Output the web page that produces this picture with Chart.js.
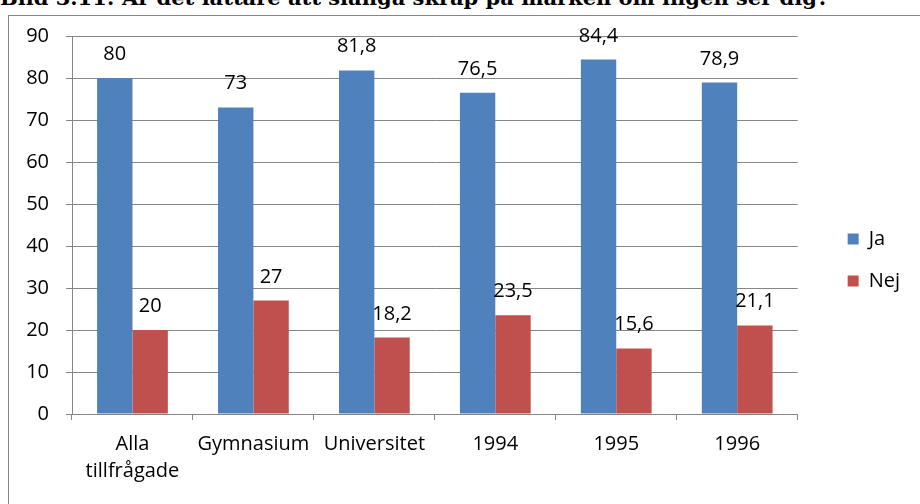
<!DOCTYPE html>
<html><head><meta charset="utf-8">
<script src="https://cdn.jsdelivr.net/npm/chart.js@4.4.0/dist/chart.umd.min.js"></script>
<style>
html,body{margin:0;padding:0;background:#fff;width:920px;height:504px;overflow:hidden;position:relative}
#title{position:absolute;left:0;top:-15px;font:bold 21px "DejaVu Serif","Liberation Serif",serif;white-space:nowrap;color:#000}
#box{position:absolute;left:8px;top:15px;width:940px;height:520px;border:1px solid #868686;box-sizing:border-box}
#wrap{position:absolute;left:0;top:0;width:920px;height:504px}
</style></head><body>
<div id="title">Bild 3.11: Är det lättare att slänga skräp på marken om ingen ser dig?</div>
<div id="box"></div>
<div id="wrap"><canvas id="c" width="920" height="504"></canvas></div>
<script>
const categories = [["Alla","tillfrågade"],"Gymnasium","Universitet","1994","1995","1996"];
const jaValues = [80, 73, 81.8, 76.5, 84.4, 78.9];
const nejValues = [20, 27, 18.2, 23.5, 15.6, 21.1];
const yTicks = [0,10,20,30,40,50,60,70,80,90];

const FONT = '"Open Sans", Lato, sans-serif';
const labelPlugin = {
  id:'barLabels',
  afterLayout(chart){
    if (chart.legend) { chart.legend.top -= 5; chart.legend.bottom -= 5; }
  },
  afterDatasetsDraw(chart){
    const ctx = chart.ctx;
    ctx.save();
    ctx.font = '20px ' + FONT;
    ctx.fillStyle = '#000';
    ctx.textAlign = 'center';
    ctx.textBaseline = 'alphabetic';
    chart.data.datasets.forEach((ds,i)=>{
      chart.getDatasetMeta(i).data.forEach((el,j)=>{
        const v = ds.data[j];
        ctx.fillText(String(v).replace('.',','), el.x, el.y - 18);
      });
    });
    ctx.restore();
  }
};
new Chart(document.getElementById('c'), {
  type:'bar',
  data:{
    labels: categories,
    datasets:[
      {label:'Ja', data: jaValues, backgroundColor:'#4F81BD', categoryPercentage:0.585, barPercentage:1},
      {label:'Nej', data: nejValues, backgroundColor:'#C0504D', categoryPercentage:0.585, barPercentage:1}
    ]
  },
  options:{
    responsive:false, animation:false,
    layout:{padding:{left:20,top:36,right:10,bottom:10}},
    plugins:{
      legend:{position:'right', align:'center',
        labels:{font:{size:20,family:FONT}, color:'#000', boxWidth:11, boxHeight:11, padding:22}},
      tooltip:{enabled:false}
    },
    scales:{
      y:{min:0,max:90,
        afterBuildTicks(s){ s.ticks = yTicks.map(v=>({value:v})); },
        afterFit(s){ s.width = 52; },
        ticks:{font:{size:20,family:FONT}, color:'#000', padding:17},
        grid:{color:'#868686', tickLength:6, drawTicks:true},
        border:{color:'#868686'}
      },
      yGap:{position:'right', display:true,
        afterFit(s){ s.width = 28; },
        ticks:{display:false}, grid:{display:false}, border:{display:false}
      },
      x:{
        afterFit(s){ s.height = 80; },
        ticks:{font:{size:20,family:FONT, lineHeight:1.35}, color:'#000', padding:11, maxRotation:0, autoSkip:false},
        grid:{offset:true, drawOnChartArea:false, color:'#868686', tickLength:6},
        border:{color:'#868686'}
      }
    }
  },
  plugins:[labelPlugin]
});
</script>
</body></html>
